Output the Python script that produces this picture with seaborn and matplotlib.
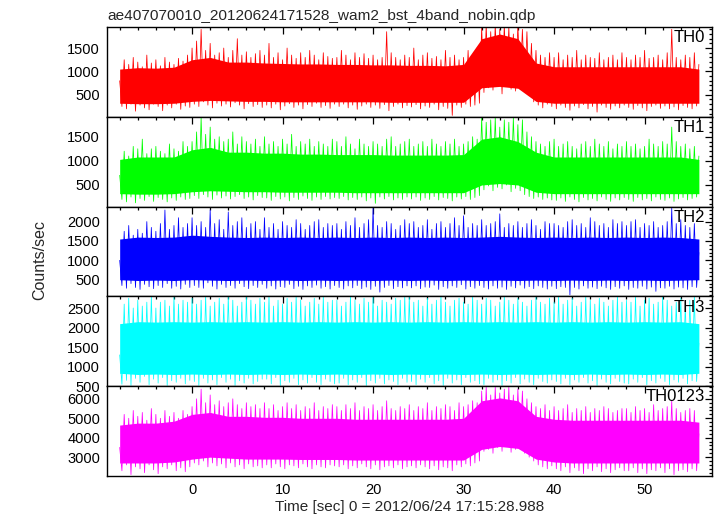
import numpy as np
import pandas as pd
import matplotlib
matplotlib.use("Agg")
import matplotlib.pyplot as plt
from matplotlib.ticker import MultipleLocator
import seaborn as sns

# ---------------- data ----------------
title = "ae407070010_20120624171528_wam2_bst_4band_nobin.qdp"
bands = ["TH0", "TH1", "TH2", "TH3", "TH0123"]
colors = ["#ff0000", "#00ff00", "#0000ff", "#00ffff", "#ff00ff"]

t_core = np.arange(-8, 57, 2)            # seconds, core band samples
t_peak = np.arange(-8, 56.25, 0.5)       # seconds, spike maxima (129)
t_trough = np.arange(-7.75, 56, 0.5)     # seconds, spike minima (128)

th0_core_lo = [320,310,310,320,360,380,370,360,360,350,350,350,350,350,350,340,340,
               340,340,340,650,680,640,360,320,320,320,320,320,320,320,320,320]
th0_core_hi = [1050,1080,1070,1090,1250,1300,1200,1200,1180,1170,1160,1160,1150,1150,1140,1140,1130,
               1130,1120,1150,1700,1800,1700,1180,1100,1100,1100,1100,1100,1100,1100,1100,1050]
th0_peak = [800,1250,1150,1300,1200,1100,1350,1180,1250,1120,1300,1200,1150,1280,1220,1350,
            1500,1650,1900,1450,1600,1350,1400,1500,1300,1450,1700,1350,1420,1300,1380,1450,
            1350,1600,1300,1400,1250,1500,1350,1280,1400,1300,1450,1350,1250,1400,1320,1280,
            1300,1450,1350,1250,1400,1300,1380,1280,1350,1250,1300,1850,1400,1300,1250,1350,
            1300,1500,1250,1350,1400,1280,1320,1250,1450,1300,1350,1250,1300,1450,1350,1500,
            1950,2000,1850,2000,1900,2000,1950,1800,2000,1900,1850,1600,1450,1350,1300,1400,
            1300,1400,1250,1350,1300,1450,1250,1350,1300,1280,1400,1250,1300,1350,1250,1400,
            1300,1250,1350,1300,1450,1280,1300,1350,1250,1400,1900,1300,1250,1350,1300,1400,
            1150]
th0_trough = [250,200,300,150,280,220,180,300,250,160,280,220,300,190,260,230,
              300,250,350,280,220,320,260,300,240,330,280,200,310,250,290,230,
              280,220,300,180,260,310,230,280,200,290,250,320,230,270,210,300,
              250,300,220,280,190,260,300,230,280,210,290,160,250,300,220,270,
              240,290,200,260,230,300,180,250,210,60,280,230,300,250,280,320,
              550,650,600,700,520,680,620,580,700,600,500,350,280,220,300,250,
              200,280,230,170,260,220,290,200,250,130,280,230,190,260,220,280,
              230,190,270,220,160,250,280,210,260,200,240,180,270,230,200,260]

th1_core_lo = [320,310,310,320,360,380,370,360,360,350,350,350,350,340,340,340,340,
               340,340,340,500,530,500,350,320,320,320,320,320,320,320,320,320]
th1_core_hi = [1030,1080,1080,1080,1230,1280,1180,1180,1160,1160,1140,1140,1130,1130,1130,1120,1120,
               1120,1120,1130,1450,1500,1400,1180,1080,1080,1080,1080,1080,1080,1080,1080,1030]
th1_peak = [700,1200,1100,1300,1250,1450,1150,1250,1300,1200,1150,1350,1250,1200,1400,1300,
            1400,1600,1900,1550,1700,1450,1500,1400,1450,1600,1350,1500,1400,1350,1450,1300,
            1500,1350,1400,1300,1450,1350,1550,1300,1400,1350,1450,1300,1400,1350,1300,1450,
            1400,1300,1500,1350,1250,1450,1350,1300,1400,1350,1300,1450,1500,1300,1350,1400,
            1450,1300,1350,1400,1300,1450,1350,1300,1400,1350,1450,1300,1350,1400,1500,1450,
            1900,1800,1850,1900,1700,1850,1800,1900,1750,1850,1600,1500,1400,1350,1300,1400,
            1450,1300,1350,1400,1300,1250,1350,1400,1300,1450,1350,1300,1400,1250,1350,1300,
            1400,1300,1350,1250,1300,1450,1350,1300,1400,1350,1700,1400,1300,1350,1250,1300,
            1100]
th1_trough = [200,150,250,130,220,180,260,160,240,200,150,230,180,250,200,220,
              280,220,300,250,200,290,230,270,210,260,300,220,250,190,280,240,
              230,180,260,210,250,170,240,200,270,220,180,250,200,260,210,240,
              220,260,190,240,200,250,170,230,120,250,210,260,190,230,200,250,
              210,250,180,230,200,260,190,240,220,170,250,210,260,200,240,280,
              400,480,380,450,420,500,360,430,380,300,260,220,250,200,230,190,
              180,230,160,250,200,150,240,190,220,170,250,200,160,230,190,240,
              200,160,240,190,220,170,250,200,180,230,160,210,240,190,220,250]

th2_core_lo = [500,480,490,480,500,490,480,490,480,490,480,490,480,490,480,490,480,
               490,480,490,480,490,480,490,480,490,480,490,480,490,480,490,500]
th2_core_hi = [1550,1600,1590,1600,1650,1620,1600,1590,1600,1590,1600,1590,1600,1590,1600,1590,1600,
               1590,1600,1590,1600,1620,1600,1590,1600,1590,1600,1590,1600,1590,1600,1590,1550]
th2_peak = [1000,1750,1900,1650,1800,1700,2000,1850,1750,1950,2300,1800,1900,2100,1850,1950,
            2100,1900,2000,1850,2300,1950,2050,1800,2250,1900,2000,2100,1850,1950,2000,1800,
            2100,1850,1950,1800,2000,1900,1850,2050,1950,1800,1900,2000,2050,1850,1950,1900,
            1950,1800,2000,1900,2100,1850,1950,2050,2350,1900,1850,2000,1950,1800,1900,2050,
            1950,2000,1850,1900,2050,1800,1950,2000,1850,1950,2100,1900,2150,1850,1950,1900,
            2050,1900,1950,2000,2200,1850,1950,1900,2000,1850,1950,2050,1900,1800,2000,1950,
            1950,1900,1850,2000,2050,1900,1950,1850,2100,2000,1900,1950,1850,2050,1950,2000,
            1900,2000,2050,1850,1950,1900,2000,1850,1900,2000,2350,1950,2050,1900,1850,1950,
            1200]
th2_trough = [350,280,400,300,250,380,320,270,350,300,400,280,330,260,380,300,
              350,300,280,420,330,260,380,300,350,280,400,320,270,350,300,380,
              280,340,260,320,300,380,270,330,250,340,300,360,280,320,260,350,
              300,260,340,290,350,270,310,250,330,180,300,350,270,320,290,340,
              290,340,270,310,300,360,250,320,280,340,300,370,260,320,280,350,
              300,260,340,280,310,250,330,290,360,280,320,270,340,300,260,330,
              270,320,300,110,300,260,340,280,310,270,330,290,250,320,280,340,
              250,300,280,330,260,310,200,290,280,330,260,310,290,250,320,300]

th3_core_lo = [830,800,810,800,810,800,810,800,810,800,810,800,810,800,810,800,810,
               800,810,800,810,800,810,800,810,800,810,800,810,800,810,800,830]
th3_core_hi = [2100,2150,2140,2150,2140,2150,2140,2150,2140,2150,2140,2150,2140,2150,2140,2150,2140,
               2150,2140,2150,2140,2150,2140,2150,2140,2150,2140,2150,2140,2150,2140,2150,2100]
th3_peak = [1300,2600,2750,2500,2700,2550,2650,2800,2500,2650,2700,2550,2800,2600,2700,2650,
            2750,2600,2700,2800,2550,2650,2750,2600,2800,2700,2550,2650,2800,2700,2600,2750,
            2650,2800,2550,2700,2600,2750,2650,2800,2700,2550,2650,2750,2600,2800,2650,2700,
            2700,2550,2650,2800,2700,2600,2750,2650,2800,2550,2700,2650,2600,2750,2700,2800,
            2800,2650,2700,2550,2750,2600,2700,2800,2650,2550,2700,2750,2650,2600,2800,2700,
            2600,2750,2700,2550,2650,2800,2700,2600,2750,2650,2550,2700,2800,2650,2600,2750,
            2650,2800,2600,2700,2750,2550,2650,2800,2700,2600,2750,2650,2550,2700,2800,2650,
            2700,2650,2800,2550,2700,2750,2600,2650,2800,2700,2550,2650,2750,2600,2700,2800,
            1600]
th3_trough = [550,650,520,700,600,750,540,680,580,720,520,640,600,700,560,650,
              620,520,700,580,660,540,720,600,680,520,640,580,700,560,620,680,
              680,560,720,520,640,600,700,540,660,580,720,600,540,680,620,560,
              580,700,540,660,600,720,520,640,580,700,560,660,620,540,700,600,
              620,540,680,600,720,560,640,520,700,580,660,540,720,600,640,560,
              540,700,600,660,520,640,580,720,560,680,600,540,700,620,580,660,
              620,560,700,540,660,600,720,580,640,520,680,600,560,700,620,580,
              560,680,600,720,540,640,580,700,620,540,660,600,700,560,640,620]

th0123_core_lo = [2700,2700,2700,2750,2900,3000,2950,2900,2900,2900,2880,2880,2880,2850,2850,2850,2850,
                  2850,2850,2850,3400,3550,3450,2900,2750,2700,2700,2700,2700,2700,2700,2700,2700]
th0123_core_hi = [4650,4750,4750,4850,5200,5300,5100,5100,5050,5050,5000,5000,5000,4950,4950,4950,4950,
                  4950,4950,5000,5900,6050,5900,5100,4950,4900,4900,4900,4900,4900,4900,4900,4800]
th0123_peak = [3500,5200,5000,5400,5100,5300,4900,5500,5200,5000,5400,5100,5300,5000,5400,5200,
               5600,6000,6500,5800,6200,5700,5900,5600,5800,6000,5700,5500,5800,5600,5700,5500,
               5800,5500,5700,5400,5600,5800,5500,5700,5400,5600,5500,5800,5400,5600,5500,5700,
               5600,5400,5700,5500,5800,5400,5600,5500,5700,5400,5600,5900,5500,5400,5600,5500,
               5700,5400,5600,5500,5800,5400,5600,5500,5700,5600,5400,5800,5600,5700,5900,5800,
               6400,6600,6200,6600,6300,6500,6600,6200,6500,6400,6000,5800,5600,5500,5700,5400,
               5600,5400,5500,5700,5300,5500,5400,5600,5300,5500,5400,5600,5500,5300,5400,5500,
               5500,5300,5600,5400,5500,5300,5700,5400,5500,5600,5900,5500,5300,5400,5500,5400,
               4200]
th0123_trough = [2300,2600,2100,2500,2400,2200,2600,2350,2150,2500,2400,2600,2300,2450,2250,2500,
                 2700,2600,2800,2500,2700,2550,2650,2450,2700,2500,2600,2400,2650,2500,2550,2450,
                 2600,2450,2650,2500,2400,2600,2550,2450,2650,2500,2400,2600,2500,2450,2600,2550,
                 2500,2600,2400,2550,2450,2650,2500,2400,2600,2350,2500,2550,2450,2600,2400,2500,
                 2550,2450,2600,2500,2400,2550,2350,2500,2450,2300,2600,2500,2650,2550,2700,2800,
                 3300,3400,3200,3500,3300,3600,3250,3400,3500,3200,3000,2800,2600,2500,2400,2550,
                 2400,2300,2500,2200,2450,2300,2150,2400,2300,2500,2250,2400,2200,2350,2450,2300,
                 2300,2450,2200,2400,2150,2350,2300,2450,2200,2400,2100,2300,2350,2250,2400,2300]

core_lo = [th0_core_lo, th1_core_lo, th2_core_lo, th3_core_lo, th0123_core_lo]
core_hi = [th0_core_hi, th1_core_hi, th2_core_hi, th3_core_hi, th0123_core_hi]
peaks = [th0_peak, th1_peak, th2_peak, th3_peak, th0123_peak]
troughs = [th0_trough, th1_trough, th2_trough, th3_trough, th0123_trough]

ylims = [(30, 1950), (52, 1913), (70, 2387), (500, 2797), (2030, 6650)]
ymajor = [500, 500, 500, 500, 1000]
yminor = [100, 100, 100, 100, 200]
xlim = (-9.4, 57.45)

# ---------------- figure ----------------
sns.set_theme(style="white")
plt.rcParams["font.family"] = ["Liberation Sans", "DejaVu Sans"]

W, H = 717, 516
fig = plt.figure(figsize=(W / 100, H / 100), dpi=100)
left_px, right_px, top_px, bot_px = 107, 712, 27, 476
ph = (bot_px - top_px) / 5.0

axes = []
for i, name in enumerate(bands):
    y0 = H - (top_px + (i + 1) * ph)
    ax = fig.add_axes([left_px / W, y0 / H, (right_px - left_px) / W, ph / H])
    axes.append(ax)

    # interleave peaks and troughs into one time series
    ts, vs = [], []
    for k in range(len(peaks[i])):
        ts.append(t_peak[k]); vs.append(peaks[i][k])
        if k < len(troughs[i]):
            ts.append(t_trough[k]); vs.append(troughs[i][k])
    df = pd.DataFrame({"t": ts, "rate": vs})

    ax.fill_between(t_core, core_lo[i], core_hi[i], color=colors[i], lw=0, zorder=2)
    sns.lineplot(data=df, x="t", y="rate", ax=ax, color=colors[i], lw=0.55,
                 estimator=None, sort=False, zorder=3)

    ax.set_xlim(*xlim)
    ax.set_ylim(*ylims[i])
    ax.xaxis.set_major_locator(MultipleLocator(10))
    ax.xaxis.set_minor_locator(MultipleLocator(2))
    ax.yaxis.set_major_locator(MultipleLocator(ymajor[i]))
    ax.yaxis.set_minor_locator(MultipleLocator(yminor[i]))
    ax.tick_params(which="both", direction="in", top=True, right=True,
                   color="black", width=0.9, labelsize=10.5, labelcolor="black")
    ax.tick_params(which="major", length=5, pad=5)
    ax.tick_params(which="minor", length=2.5)
    for s in ax.spines.values():
        s.set_color("black")
        s.set_linewidth(1.0)
        s.set_zorder(6)
    ax.set_ylabel("")
    ax.set_xlabel("")
    if i < 4:
        ax.set_xticklabels([])
    ax.text(0.988, 0.965, name, transform=ax.transAxes, ha="right", va="top",
            fontsize=12, color="black", zorder=7)

axes[-1].set_xlabel("Time [sec] 0 = 2012/06/24 17:15:28.988", fontsize=11, labelpad=2.5)
axes[-1].tick_params(axis="x", which="major", pad=5)

fig.text(left_px / W, 1 - 20 / H, title, ha="left", va="baseline", fontsize=11.1)
fig.text(40 / W, 1 - 260 / H, "Counts/sec", rotation=90, ha="center", va="center", fontsize=11.5)

fig.savefig("out.png", dpi=100, facecolor="white")
